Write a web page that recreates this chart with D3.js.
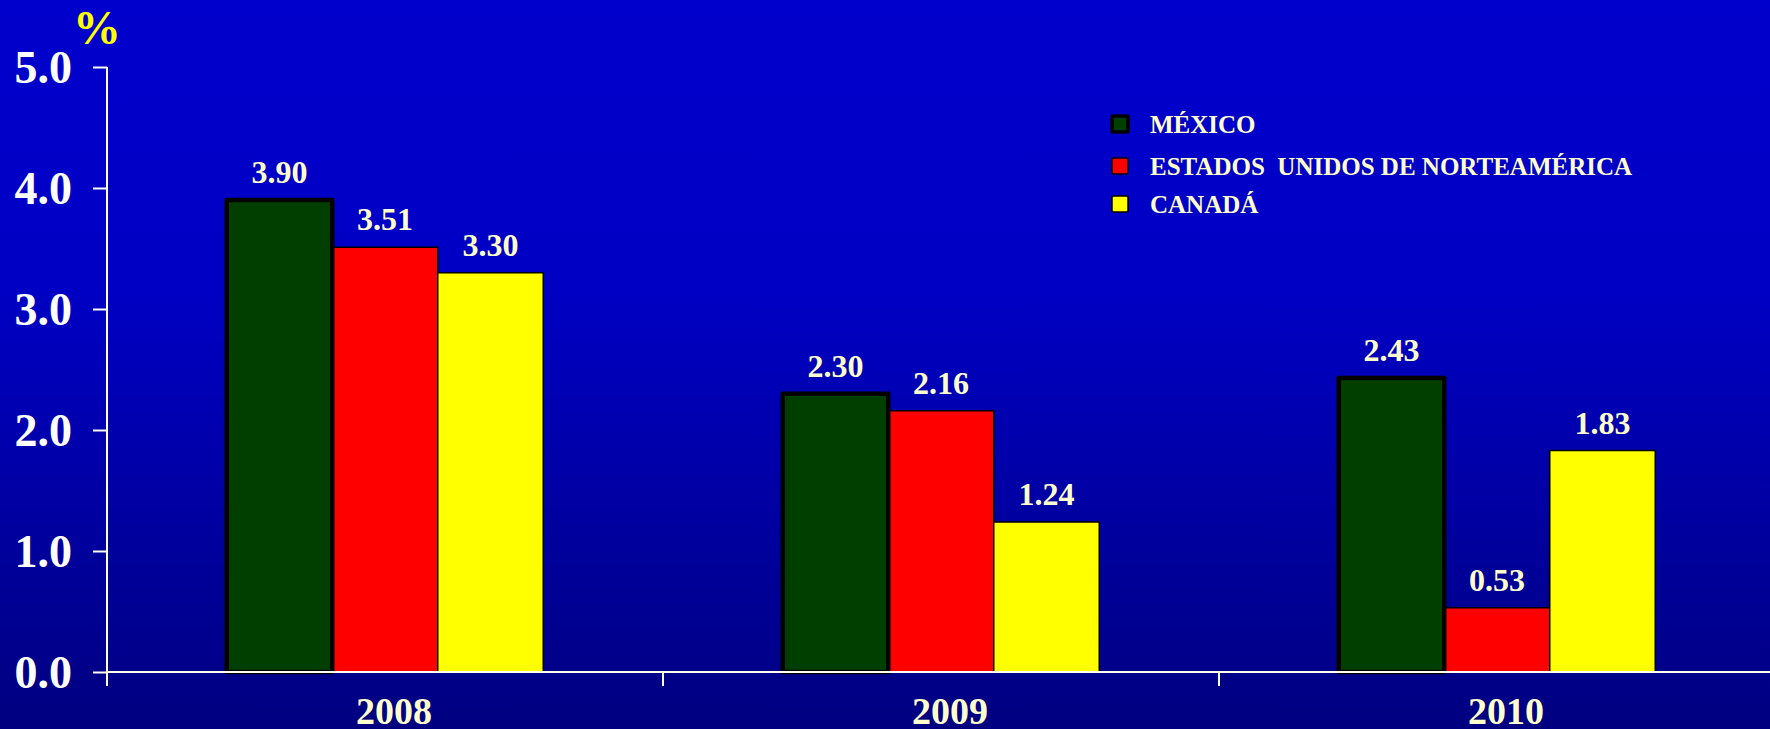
<!DOCTYPE html>
<html>
<head>
<meta charset="utf-8">
<script src="https://cdn.jsdelivr.net/npm/d3@7"></script>
<style>
  html, body { margin: 0; padding: 0; background: #0000CC; overflow: hidden; }
  svg { display: block; }
</style>
</head>
<body>
<svg id="chart" width="1770" height="729"></svg>
<script>
// ---- Data ----
const years = ["2008", "2009", "2010"];
const seriesNames = ["MÉXICO", "ESTADOS  UNIDOS DE NORTEAMÉRICA", "CANADÁ"];
const mexico = [3.90, 2.30, 2.43];
const usa = [3.51, 2.16, 0.53];
const canada = [3.30, 1.24, 1.83];
const yTicks = [0, 1, 2, 3, 4, 5];

const seriesValues = [mexico, usa, canada];
const colors = ["#003F00", "#FF0000", "#FFFF00"];
const strokeW = [4.5, 1.5, 1.5];

const W = 1770, H = 729;
const svg = d3.select("#chart");

// background gradient
const defs = svg.append("defs");
const grad = defs.append("linearGradient").attr("id", "bg").attr("x1", 0).attr("y1", 0).attr("x2", 0).attr("y2", 1);
grad.append("stop").attr("offset", "0%").attr("stop-color", "#0000CC");
grad.append("stop").attr("offset", "40%").attr("stop-color", "#0000C4");
grad.append("stop").attr("offset", "100%").attr("stop-color", "#000080");
svg.append("rect").attr("width", W).attr("height", H).attr("fill", "url(#bg)");

const x0 = 107, x1 = 1775, yBase = 672, yTop = 67;
const x = d3.scaleBand().domain(years).range([x0, x1]).paddingInner(0).paddingOuter(0);
const xs = d3.scaleBand().domain(d3.range(3)).range([0, x.bandwidth()]).paddingInner(0).paddingOuter(1.135);
const y = d3.scaleLinear().domain([0, 5]).range([yBase, yTop]);

const axisColor = "#FFFFF0";
const serif = "'Liberation Serif', 'Times New Roman', serif";

// bars
const data = [];
years.forEach((yr, i) => seriesValues.forEach((vals, s) => data.push({ yr, s, v: vals[i] })));

// draw red/yellow first, then green on top (thick border)
const order = data.slice().sort((a, b) => (a.s === 0) - (b.s === 0));
svg.append("g").selectAll("rect").data(order).join("rect")
  .attr("x", d => x(d.yr) + xs(d.s))
  .attr("y", d => y(d.v))
  .attr("width", xs.bandwidth())
  .attr("height", d => yBase - y(d.v))
  .attr("fill", d => colors[d.s])
  .attr("stroke", "#000")
  .attr("stroke-width", d => strokeW[d.s])
  .attr("stroke-linejoin", "round");

// value labels
svg.append("g").selectAll("text").data(data).join("text")
  .attr("x", d => x(d.yr) + xs(d.s) + xs.bandwidth() / 2)
  .attr("y", d => y(d.v) - 17)
  .attr("text-anchor", "middle")
  .attr("font-family", serif).attr("font-weight", "bold").attr("font-size", 32)
  .attr("fill", "#FFFFCC")
  .text(d => d.v.toFixed(2));

// y axis
const yAxis = d3.axisLeft(y).tickValues(yTicks).tickSize(14).tickFormat(d3.format(".1f"));
const gy = svg.append("g").attr("transform", `translate(${x0},0)`).call(yAxis);
gy.select(".domain").remove();
gy.append("line").attr("x1", 0).attr("x2", 0).attr("y1", yTop).attr("y2", yBase + 14)
  .attr("stroke", axisColor).attr("stroke-width", 2);
gy.selectAll(".tick line").attr("stroke", axisColor).attr("stroke-width", 2);
gy.selectAll(".tick text")
  .attr("x", -35).attr("dy", "0.34em")
  .attr("font-family", serif).attr("font-weight", "bold").attr("font-size", 46)
  .attr("fill", "#FFFFFF");

// x axis
const gx = svg.append("g").attr("transform", `translate(0,${yBase})`);
gx.append("line").attr("x1", x0).attr("x2", W).attr("y1", 0).attr("y2", 0)
  .attr("stroke", axisColor).attr("stroke-width", 2);
gx.selectAll("line.sep").data(years.slice(1)).join("line").attr("class", "sep")
  .attr("x1", d => x(d)).attr("x2", d => x(d)).attr("y1", 0).attr("y2", 14)
  .attr("stroke", axisColor).attr("stroke-width", 2);
gx.selectAll("text").data(years).join("text")
  .attr("x", d => x(d) + x.bandwidth() / 2 + 9)
  .attr("y", 52)
  .attr("text-anchor", "middle")
  .attr("font-family", serif).attr("font-weight", "bold").attr("font-size", 38)
  .attr("fill", "#FFFFCC")
  .text(d => d);

// % unit label
svg.append("text").attr("x", 97).attr("y", 44).attr("text-anchor", "middle")
  .attr("font-family", serif).attr("font-weight", "bold").attr("font-size", 48)
  .attr("fill", "#FFFF00").text("%");

// legend
const lg = svg.append("g").attr("transform", "translate(1112,124)");
const li = lg.selectAll("g").data(seriesNames).join("g")
  .attr("transform", (d, i) => `translate(0,${[0, 42, 80][i]})`);
li.append("rect").attr("x", 0).attr("y", -8).attr("width", 16).attr("height", 16)
  .attr("fill", (d, i) => colors[i]).attr("stroke", "#000")
  .attr("stroke-width", (d, i) => i === 0 ? 3.5 : 1.5).attr("rx", 1.5);
li.append("text").attr("x", 38).attr("y", 9)
  .attr("font-family", serif).attr("font-weight", "bold").attr("font-size", 25)
  .attr("fill", "#FFFFCC").attr("xml:space", "preserve")
  .style("white-space", "pre")
  .text(d => d);
</script>
</body>
</html>
